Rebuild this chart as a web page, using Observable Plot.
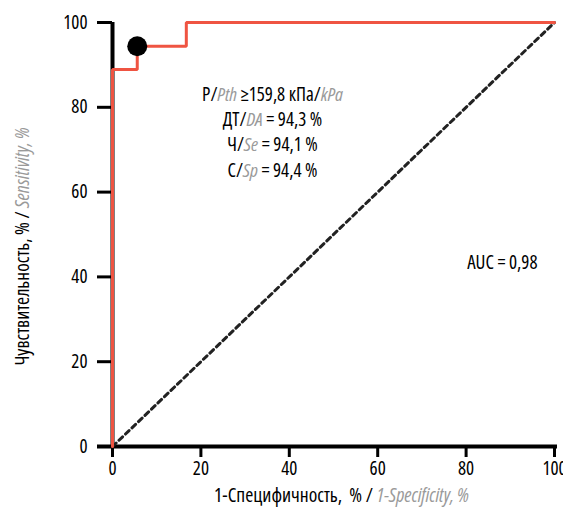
<!DOCTYPE html>
<html><head><meta charset="utf-8">
<script src="https://cdn.jsdelivr.net/npm/d3@7"></script>
<script src="https://cdn.jsdelivr.net/npm/@observablehq/plot@0.6"></script>
<style>
body{margin:0;background:#fff}
svg{overflow:visible}
svg text{font-stretch:75%}
</style>
</head><body><div id="chart"></div>
<script>
// ROC curve points (1-Specificity %, Sensitivity %)
const rocFpr = [0, 0, 5.6, 5.6, 16.7, 16.7, 100];
const rocTpr = [0, 88.9, 88.9, 94.4, 94.4, 100, 100];
const cutoffFpr = [5.6];
const cutoffTpr = [94.4];
const xTicks = [0, 20, 40, 60, 80, 100];
const yTicks = [0, 20, 40, 60, 80, 100];
// text parts: [text, isGreyItalic]
const annotationLines = [
  [["P/", 0], ["Pth", 1], [" ≥159,8 кПа/", 0], ["kPa", 1]],
  [["ДТ/", 0], ["DA", 1], [" = 94,3 %", 0]],
  [["Ч/", 0], ["Se", 1], [" = 94,1 %", 0]],
  [["С/", 0], ["Sp", 1], [" = 94,4 %", 0]]
];
const aucText = "AUC = 0,98";
const xLabelParts = [["1-Специфичность,  % / ", 0], ["1-Specificity, %", 1]];
const yLabelParts = [["Чувствительность, % / ", 0], ["Sensitivity, %", 1]];

const RED = "#ef5442";
const GREY = "#9a9a9a";
const FONT = "'Open Sans', 'Liberation Sans Narrow', 'DejaVu Sans Condensed', sans-serif";

const roc = rocFpr.map((x, i) => ({x, y: rocTpr[i]}));
const cutoff = cutoffFpr.map((x, i) => ({x, y: cutoffTpr[i]}));
const joinParts = parts => parts.map(p => p[0]).join("");
const allParts = [...annotationLines, xLabelParts, yLabelParts];

const plot = Plot.plot({
  width: 563,
  height: 511,
  marginLeft: 112,
  marginRight: 9,
  marginTop: 22,
  marginBottom: 65,
  style: {fontFamily: FONT, background: "#fff", color: "#000"},
  x: {domain: [0, 100]},
  y: {domain: [0, 100]},
  marks: [
    Plot.axisX({ticks: xTicks, tickSize: 11, tickPadding: 4, strokeWidth: 3, fontSize: 19, label: null}),
    Plot.axisY({ticks: yTicks, tickSize: 15, tickPadding: 10, strokeWidth: 3, fontSize: 19, label: null}),
    Plot.ruleY([0], {stroke: "#000", strokeWidth: 4, insetLeft: -15, insetRight: -3}),
    Plot.ruleX([0], {stroke: "#000", strokeWidth: 4}),
    Plot.line([{x: 0, y: 0}, {x: 100, y: 100}], {x: "x", y: "y", stroke: "#222", strokeWidth: 3, strokeDasharray: "5,4"}),
    Plot.line(roc, {x: "x", y: "y", stroke: RED, strokeWidth: 3, strokeLinejoin: "miter", curve: "linear"}),
    Plot.dot(cutoff, {x: "x", y: "y", r: 10, fill: "#000", stroke: "none"}),
    Plot.text([annotationLines.map(joinParts).join("\n")], {x: 36.2, y: 74.5, text: d => d, fontSize: 19, lineHeight: 1.33, textAnchor: "middle", fill: "#000", style: "letter-spacing:-0.4px"}),
    Plot.text([aucText], {x: 88.2, y: 43.2, text: d => d, fontSize: 19, fill: "#000"}),
    Plot.text([joinParts(xLabelParts)], {frameAnchor: "bottom", dx: 8, dy: 55, text: d => d, fontSize: 19.5, textAnchor: "middle", fill: "#000"}),
    Plot.text([joinParts(yLabelParts)], {frameAnchor: "left", dx: -90, dy: 12, rotate: -90, text: d => d, fontSize: 19.5, textAnchor: "middle", fill: "#000"})
  ]
});

// style grey italic parts
const partsByText = new Map(allParts.map(p => [joinParts(p), p]));
plot.querySelectorAll("text, tspan").forEach(el => {
  if (el.children.length) return;
  const parts = partsByText.get(el.textContent);
  if (!parts) return;
  el.textContent = "";
  for (const [t, g] of parts) {
    const ts = document.createElementNS("http://www.w3.org/2000/svg", "tspan");
    ts.textContent = t;
    if (g) { ts.setAttribute("fill", GREY); ts.setAttribute("font-style", "italic"); }
    el.appendChild(ts);
  }
});

document.getElementById("chart").appendChild(plot);
</script>
</body></html>
